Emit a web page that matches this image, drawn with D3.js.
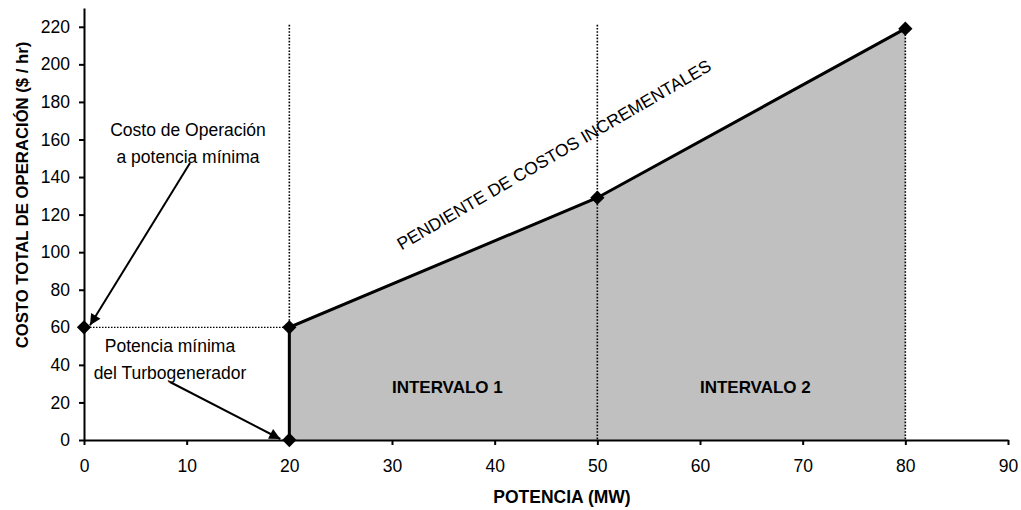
<!DOCTYPE html>
<html>
<head>
<meta charset="utf-8">
<script src="https://cdn.jsdelivr.net/npm/d3@7"></script>
<style>
  body { margin: 0; background: #fff; }
  text { font-family: "Liberation Sans", Arial, sans-serif; }
</style>
</head>
<body>
<div id="d3-container"></div>
<script>
/**
 * CONSTANTS AND DATA
 * */
const width = 1021,
  height = 510,
  margin = { top: 8, bottom: 70, left: 84, right: 13 };

// curve points: power (MW) and cost ($/hr)
const power = [20, 20, 50, 80];
const cost = [0, 60, 129, 219];

// minimum-power point on the cost axis
const minPoint = { power: 0, cost: 60 };

// interval boundaries (dotted verticals)
const boundaries = [20, 50, 80];
const intervalLabels = ["INTERVALO 1", "INTERVALO 2"];

const xTicks = [0, 10, 20, 30, 40, 50, 60, 70, 80, 90];
const yTicks = [0, 20, 40, 60, 80, 100, 120, 140, 160, 180, 200, 220];

const fontSize = "17.5px";

const svg = d3.select("#d3-container")
  .append("svg")
  .attr("width", width)
  .attr("height", height);

const x = d3.scaleLinear().domain([0, 90]).range([margin.left, width - margin.right]);
const y = d3.scaleLinear().domain([0, 230]).range([height - margin.bottom, margin.top]);

const points = power.map((p, i) => ({ power: p, cost: cost[i] }));

// grey area under the curve
const area = d3.area()
  .x(d => x(d.power))
  .y0(y(0))
  .y1(d => y(d.cost));
svg.append("path")
  .datum(points)
  .attr("fill", "#c0c0c0")
  .attr("d", area);

// dotted verticals at interval boundaries
svg.selectAll("line.boundary")
  .data(boundaries)
  .join("line")
  .attr("class", "boundary")
  .attr("x1", d => x(d)).attr("x2", d => x(d))
  .attr("y1", y(220) - 2).attr("y2", y(0))
  .attr("stroke", "#000")
  .attr("stroke-width", 1.6)
  .attr("stroke-dasharray", "1.6,1.6");

// dotted horizontal at minimum cost
svg.append("line")
  .attr("x1", x(minPoint.power)).attr("x2", x(power[1]))
  .attr("y1", y(minPoint.cost)).attr("y2", y(minPoint.cost))
  .attr("stroke", "#000")
  .attr("stroke-width", 1.2)
  .attr("stroke-dasharray", "1.5,1.5");

// axes
const xAxis = svg.append("g")
  .attr("transform", `translate(0,${y(0)})`)
  .call(d3.axisBottom(x).tickValues(xTicks).tickSize(5).tickSizeOuter(0).tickPadding(15));
const yAxis = svg.append("g")
  .attr("transform", `translate(${x(0)},0)`)
  .call(d3.axisLeft(y).tickValues(yTicks).tickSize(5).tickSizeOuter(0).tickPadding(9));

[xAxis, yAxis].forEach(g => {
  g.select(".domain").attr("stroke", "#000").attr("stroke-width", 2);
  g.selectAll(".tick line").attr("stroke", "#000").attr("stroke-width", 2);
  g.selectAll(".tick text")
    .attr("fill", "#000")
    .style("font-size", fontSize)
    .style("font-family", "'Liberation Sans', Arial, sans-serif");
});

// cost curve
const line = d3.line()
  .x(d => x(d.power))
  .y(d => y(d.cost));
svg.append("path")
  .datum(points)
  .attr("fill", "none")
  .attr("stroke", "#000")
  .attr("stroke-width", 3)
  .attr("d", line);

// diamond markers
svg.selectAll("path.marker")
  .data([minPoint, ...points])
  .join("path")
  .attr("class", "marker")
  .attr("d", d3.symbol(d3.symbolDiamond2, 130))
  .attr("transform", d => `translate(${x(d.power)},${y(d.cost)})`)
  .attr("fill", "#000");

// axis titles
svg.append("text")
  .attr("transform", "translate(28,195) rotate(-90)")
  .attr("text-anchor", "middle")
  .style("font-size", "16.7px")
  .style("font-weight", "bold")
  .text("COSTO TOTAL DE OPERACIÓN ($ / hr)");

svg.append("text")
  .attr("x", 562)
  .attr("y", 503)
  .attr("text-anchor", "middle")
  .style("font-size", fontSize)
  .style("font-weight", "bold")
  .text("POTENCIA (MW)");

// interval labels
svg.selectAll("text.interval")
  .data(intervalLabels)
  .join("text")
  .attr("class", "interval")
  .attr("x", (d, i) => (x(boundaries[i]) + x(boundaries[i + 1])) / 2 + 4)
  .attr("y", 393)
  .attr("text-anchor", "middle")
  .style("font-size", "17px")
  .style("font-weight", "bold")
  .text(d => d);

// slope label
svg.append("text")
  .attr("transform", "translate(557,160) rotate(-30.2)")
  .attr("text-anchor", "middle")
  .style("font-size", fontSize)
  .text("PENDIENTE DE COSTOS INCREMENTALES");

// annotations
svg.append("defs").append("marker")
  .attr("id", "arrow")
  .attr("viewBox", "0 0 10 10")
  .attr("refX", 10).attr("refY", 5)
  .attr("markerWidth", 13).attr("markerHeight", 11)
  .attr("markerUnits", "userSpaceOnUse")
  .attr("orient", "auto")
  .append("path")
  .attr("d", "M0,0 L10,5 L0,10 z")
  .attr("fill", "#000");

const notes = [
  { lines: ["Costo de Operación", "a potencia mínima"], cx: 188, cy: 136,
    from: [190, 163], to: [x(minPoint.power) + 6, y(minPoint.cost) - 2] },
  { lines: ["Potencia mínima", "del Turbogenerador"], cx: 170, cy: 352,
    from: [170, 382], to: [x(power[0]) - 9, y(0) - 1] }
];

notes.forEach(n => {
  svg.append("text")
    .attr("x", n.cx)
    .attr("y", n.cy)
    .attr("text-anchor", "middle")
    .style("font-size", fontSize)
    .selectAll("tspan")
    .data(n.lines)
    .join("tspan")
    .attr("x", n.cx)
    .attr("dy", (d, i) => i === 0 ? 0 : 27)
    .text(d => d);
  svg.append("line")
    .attr("x1", n.from[0]).attr("y1", n.from[1])
    .attr("x2", n.to[0]).attr("y2", n.to[1])
    .attr("stroke", "#000")
    .attr("stroke-width", 2)
    .attr("marker-end", "url(#arrow)");
});
</script>
</body>
</html>
